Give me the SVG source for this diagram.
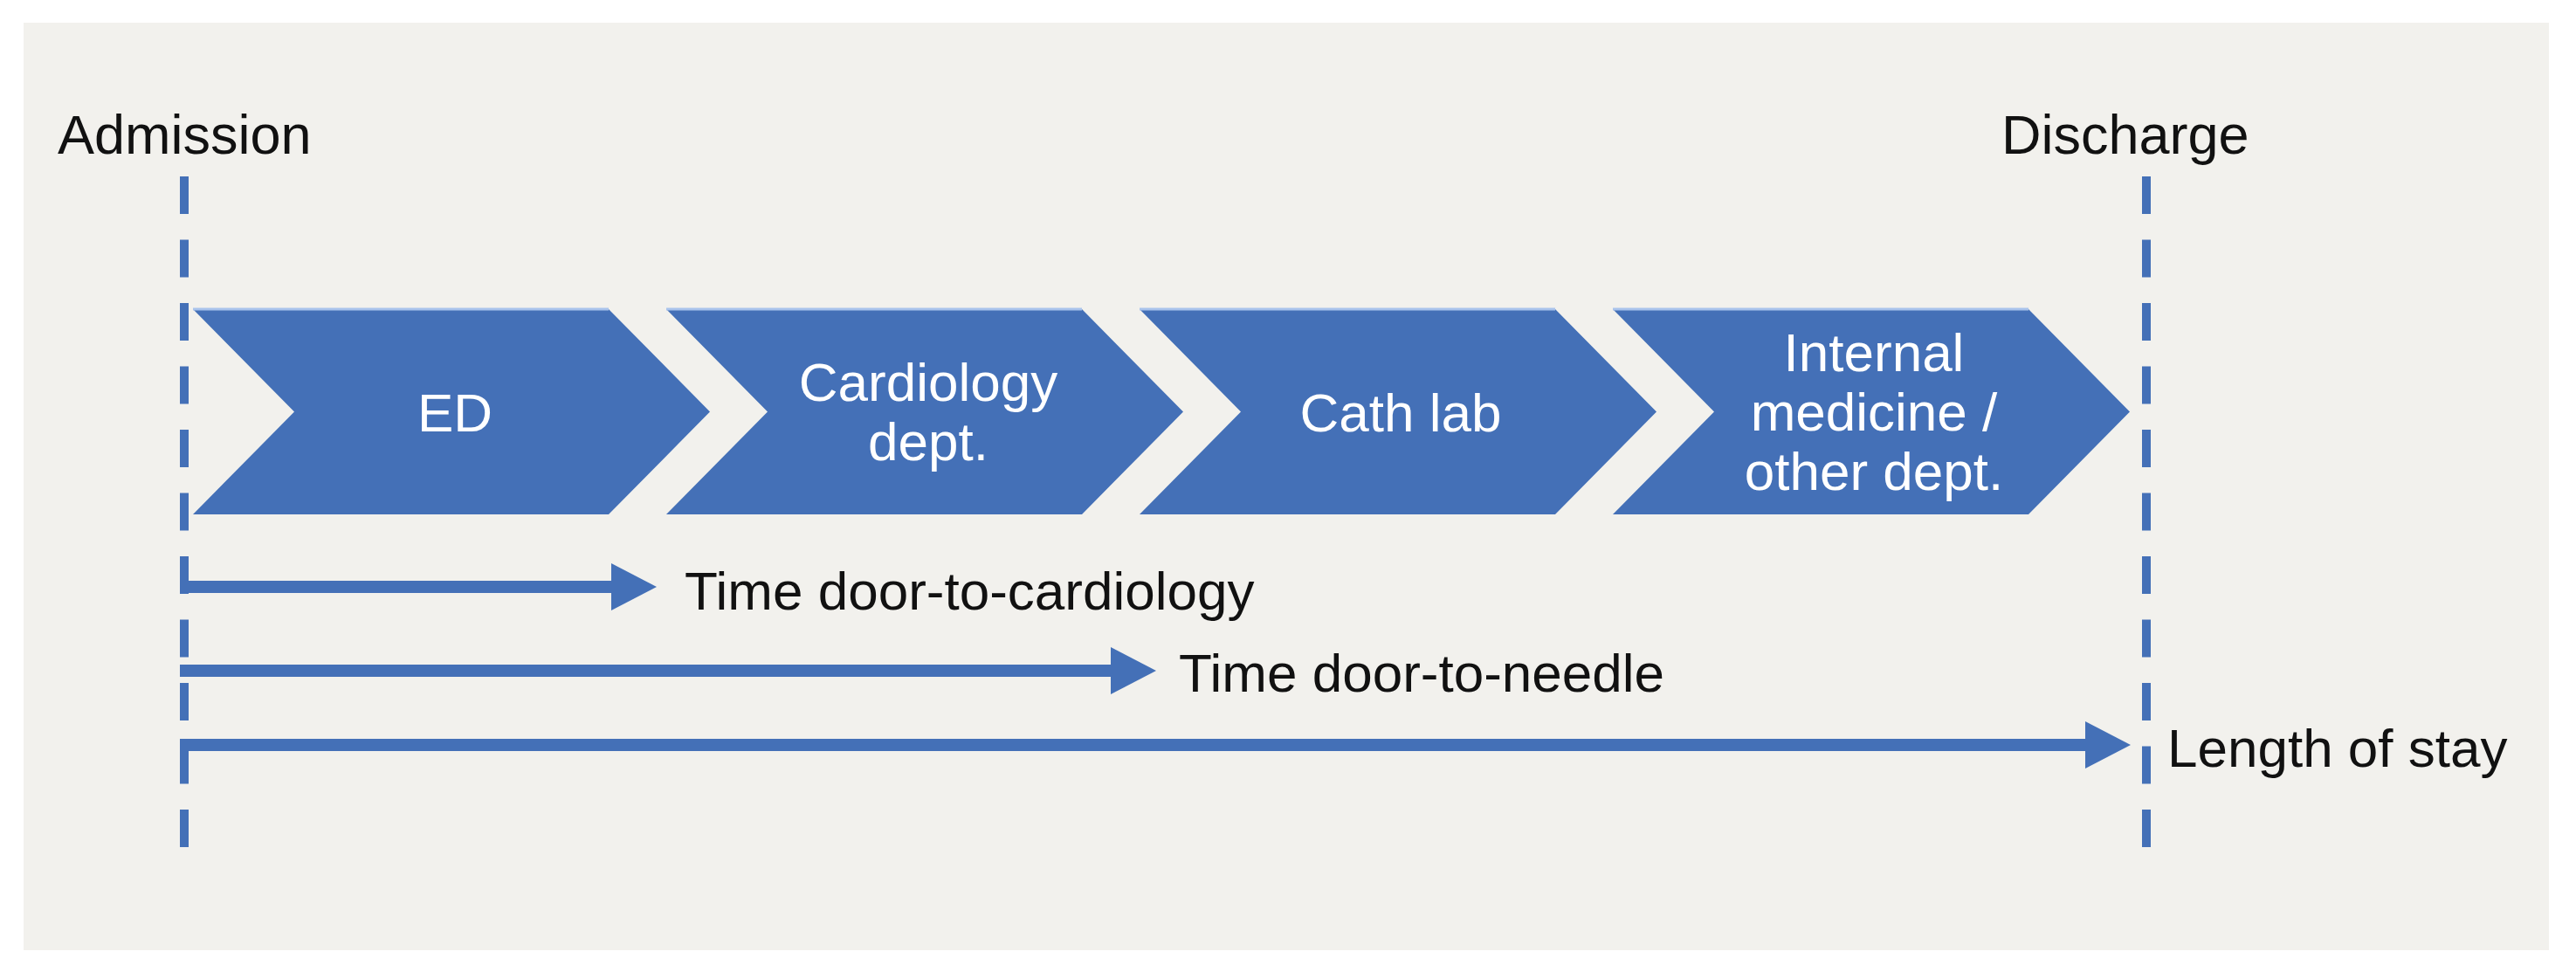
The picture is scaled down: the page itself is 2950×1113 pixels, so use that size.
<svg xmlns="http://www.w3.org/2000/svg" width="2950" height="1113" viewBox="0 0 2950 1113">
  <style>
    .chev { fill: #4470b7; }
    .hl { stroke: #a9c3ec; stroke-width: 3; fill: none; }
    .ct { fill: #ffffff; font-family: "Liberation Sans", Arial, sans-serif; font-size: 62px; text-anchor: middle; }
    .lbl { fill: #111111; font-family: "Liberation Sans", Arial, sans-serif; font-size: 63px; }
    .al { fill: #111111; font-family: "Liberation Sans", Arial, sans-serif; font-size: 62px; }
    .dash { stroke: #4470b7; stroke-width: 10; stroke-dasharray: 43 29.5; fill: none; }
    .arr { stroke: #4470b7; stroke-width: 14; fill: none; marker-end: url(#ah); }
  </style>
  <defs>
    <marker id="ah" markerUnits="userSpaceOnUse" markerWidth="52" markerHeight="54" refX="0" refY="27" orient="auto">
      <path d="M0,0 L52,27 L0,54 Z" fill="#4470b7"/>
    </marker>
  </defs>

  <rect x="0" y="0" width="2950" height="1113" fill="#ffffff"/>
  <rect x="27" y="26" width="2892" height="1062" fill="#f2f1ed"/>

  <g id="admission">
    <text class="lbl" x="66" y="176">Admission</text>
  </g>
  <g id="discharge">
    <text class="lbl" x="2292" y="176">Discharge</text>
  </g>

  <g id="connectors">
    <line class="dash" x1="211" y1="202" x2="211" y2="972"/>
    <line class="dash" x1="2458" y1="202" x2="2458" y2="972"/>
    <line class="arr" x1="206" y1="672" x2="700" y2="672"/>
    <line class="arr" x1="206" y1="768" x2="1272" y2="768"/>
    <line class="arr" x1="206" y1="853" x2="2388" y2="853"/>
  </g>

  <g id="node-ed">
    <path class="chev" d="M221,354 L697,354 L813,471.5 L697,589 L221,589 L337,471.5 Z"/>
    <line class="hl" x1="221" y1="354" x2="697" y2="354"/>
    <text class="ct" x="521" y="494">ED</text>
  </g>
  <g id="node-cardiology">
    <path class="chev" d="M763,354 L1239,354 L1355,471.5 L1239,589 L763,589 L879,471.5 Z"/>
    <line class="hl" x1="763" y1="354" x2="1239" y2="354"/>
    <text class="ct" x="1063" y="459">Cardiology</text>
    <text class="ct" x="1063" y="527">dept.</text>
  </g>
  <g id="node-cathlab">
    <path class="chev" d="M1305,354 L1781,354 L1897,471.5 L1781,589 L1305,589 L1421,471.5 Z"/>
    <line class="hl" x1="1305" y1="354" x2="1781" y2="354"/>
    <text class="ct" x="1604" y="494">Cath lab</text>
  </g>
  <g id="node-internal">
    <path class="chev" d="M1847,354 L2323,354 L2439,471.5 L2323,589 L1847,589 L1963,471.5 Z"/>
    <line class="hl" x1="1847" y1="354" x2="2323" y2="354"/>
    <text class="ct" x="2146" y="425">Internal</text>
    <text class="ct" x="2146" y="493">medicine /</text>
    <text class="ct" x="2146" y="561">other dept.</text>
  </g>

  <g id="arrow-labels">
    <text class="al" x="784" y="698">Time door-to-cardiology</text>
    <text class="al" x="1350" y="792">Time door-to-needle</text>
    <text class="al" x="2482" y="878">Length of stay</text>
  </g>
</svg>
